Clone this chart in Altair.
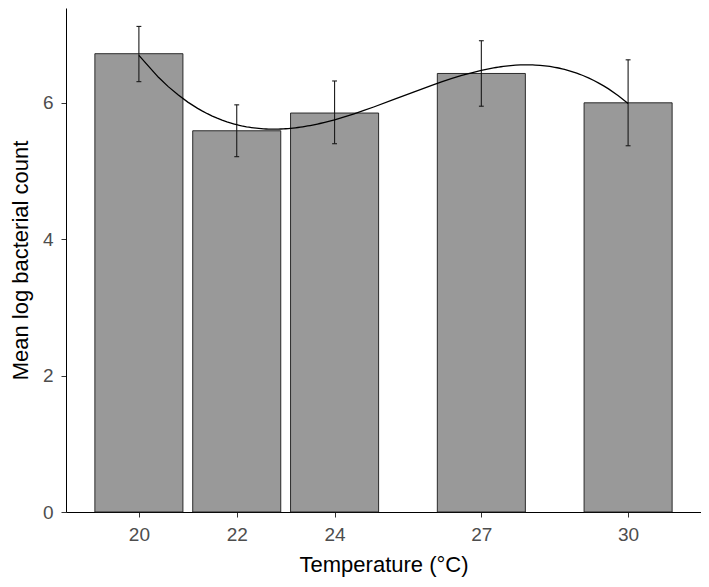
import altair as alt
import pandas as pd

temps = [20, 22, 24, 27, 30]
means = [6.72, 5.59, 5.85, 6.43, 6.00]
lower = [6.31, 5.21, 5.40, 5.95, 5.37]
upper = [7.12, 5.97, 6.32, 6.91, 6.63]
x_ticks = [20, 22, 24, 27, 30]
y_ticks = [0, 2, 4, 6]

df = pd.DataFrame({"temp": temps, "mean": means, "lower": lower, "upper": upper})

xscale = alt.Scale(domain=[18.51, 31.49], nice=False, zero=False)
yscale = alt.Scale(domain=[0, 7.39], nice=False)
xaxis = alt.Axis(values=x_ticks, title="Temperature (°C)", format="d")
yaxis = alt.Axis(values=y_ticks, title="Mean log bacterial count", format="d")

base = alt.Chart(df)

bars = base.transform_calculate(
    xa="datum.temp - 0.9", xb="datum.temp + 0.9"
).mark_bar(color="#999999", stroke="#1a1a1a", strokeWidth=0.9).encode(
    x=alt.X("xa:Q", scale=xscale, axis=xaxis),
    x2="xb:Q",
    y=alt.Y("mean:Q", scale=yscale, axis=yaxis),
    y2=alt.datum(0),
)

err = base.mark_rule(color="#1a1a1a", strokeWidth=1.1).encode(
    x=alt.X("temp:Q", scale=xscale, axis=xaxis),
    y=alt.Y("lower:Q", scale=yscale, axis=yaxis),
    y2="upper:Q",
)

caps = base.transform_fold(["lower", "upper"], as_=["end", "val"]).transform_calculate(
    ca="datum.temp - 0.05", cb="datum.temp + 0.05"
).mark_rule(color="#1a1a1a", strokeWidth=1.1).encode(
    x=alt.X("ca:Q", scale=xscale, axis=xaxis),
    x2="cb:Q",
    y=alt.Y("val:Q", scale=yscale, axis=yaxis),
)

curve = base.transform_regression(
    "temp", "mean", method="poly", order=3
).mark_line(color="black", strokeWidth=1.3).encode(
    x=alt.X("temp:Q", scale=xscale, axis=xaxis),
    y=alt.Y("mean:Q", scale=yscale, axis=yaxis),
)

chart = alt.layer(bars, err, caps, curve).properties(
    width=635,
    height=504,
    autosize=alt.AutoSizeParams(type="none"),
    padding={"left": 58, "top": 0, "right": 0, "bottom": 67},
).configure_view(stroke=None).configure_axis(
    grid=False,
    domainColor="black",
    domainWidth=1,
    tickColor="#333333",
    tickSize=5,
    tickWidth=1,
    labelColor="#4D4D4D",
    labelFontSize=19,
    labelPadding=8,
    labelFont="Liberation Sans",
    titleFont="Liberation Sans",
    titleFontSize=22,
    titleFontWeight="normal",
    titleColor="black",
    titlePadding=10,
)

chart.save("out.html", embed_options={"renderer": "svg", "actions": False})
